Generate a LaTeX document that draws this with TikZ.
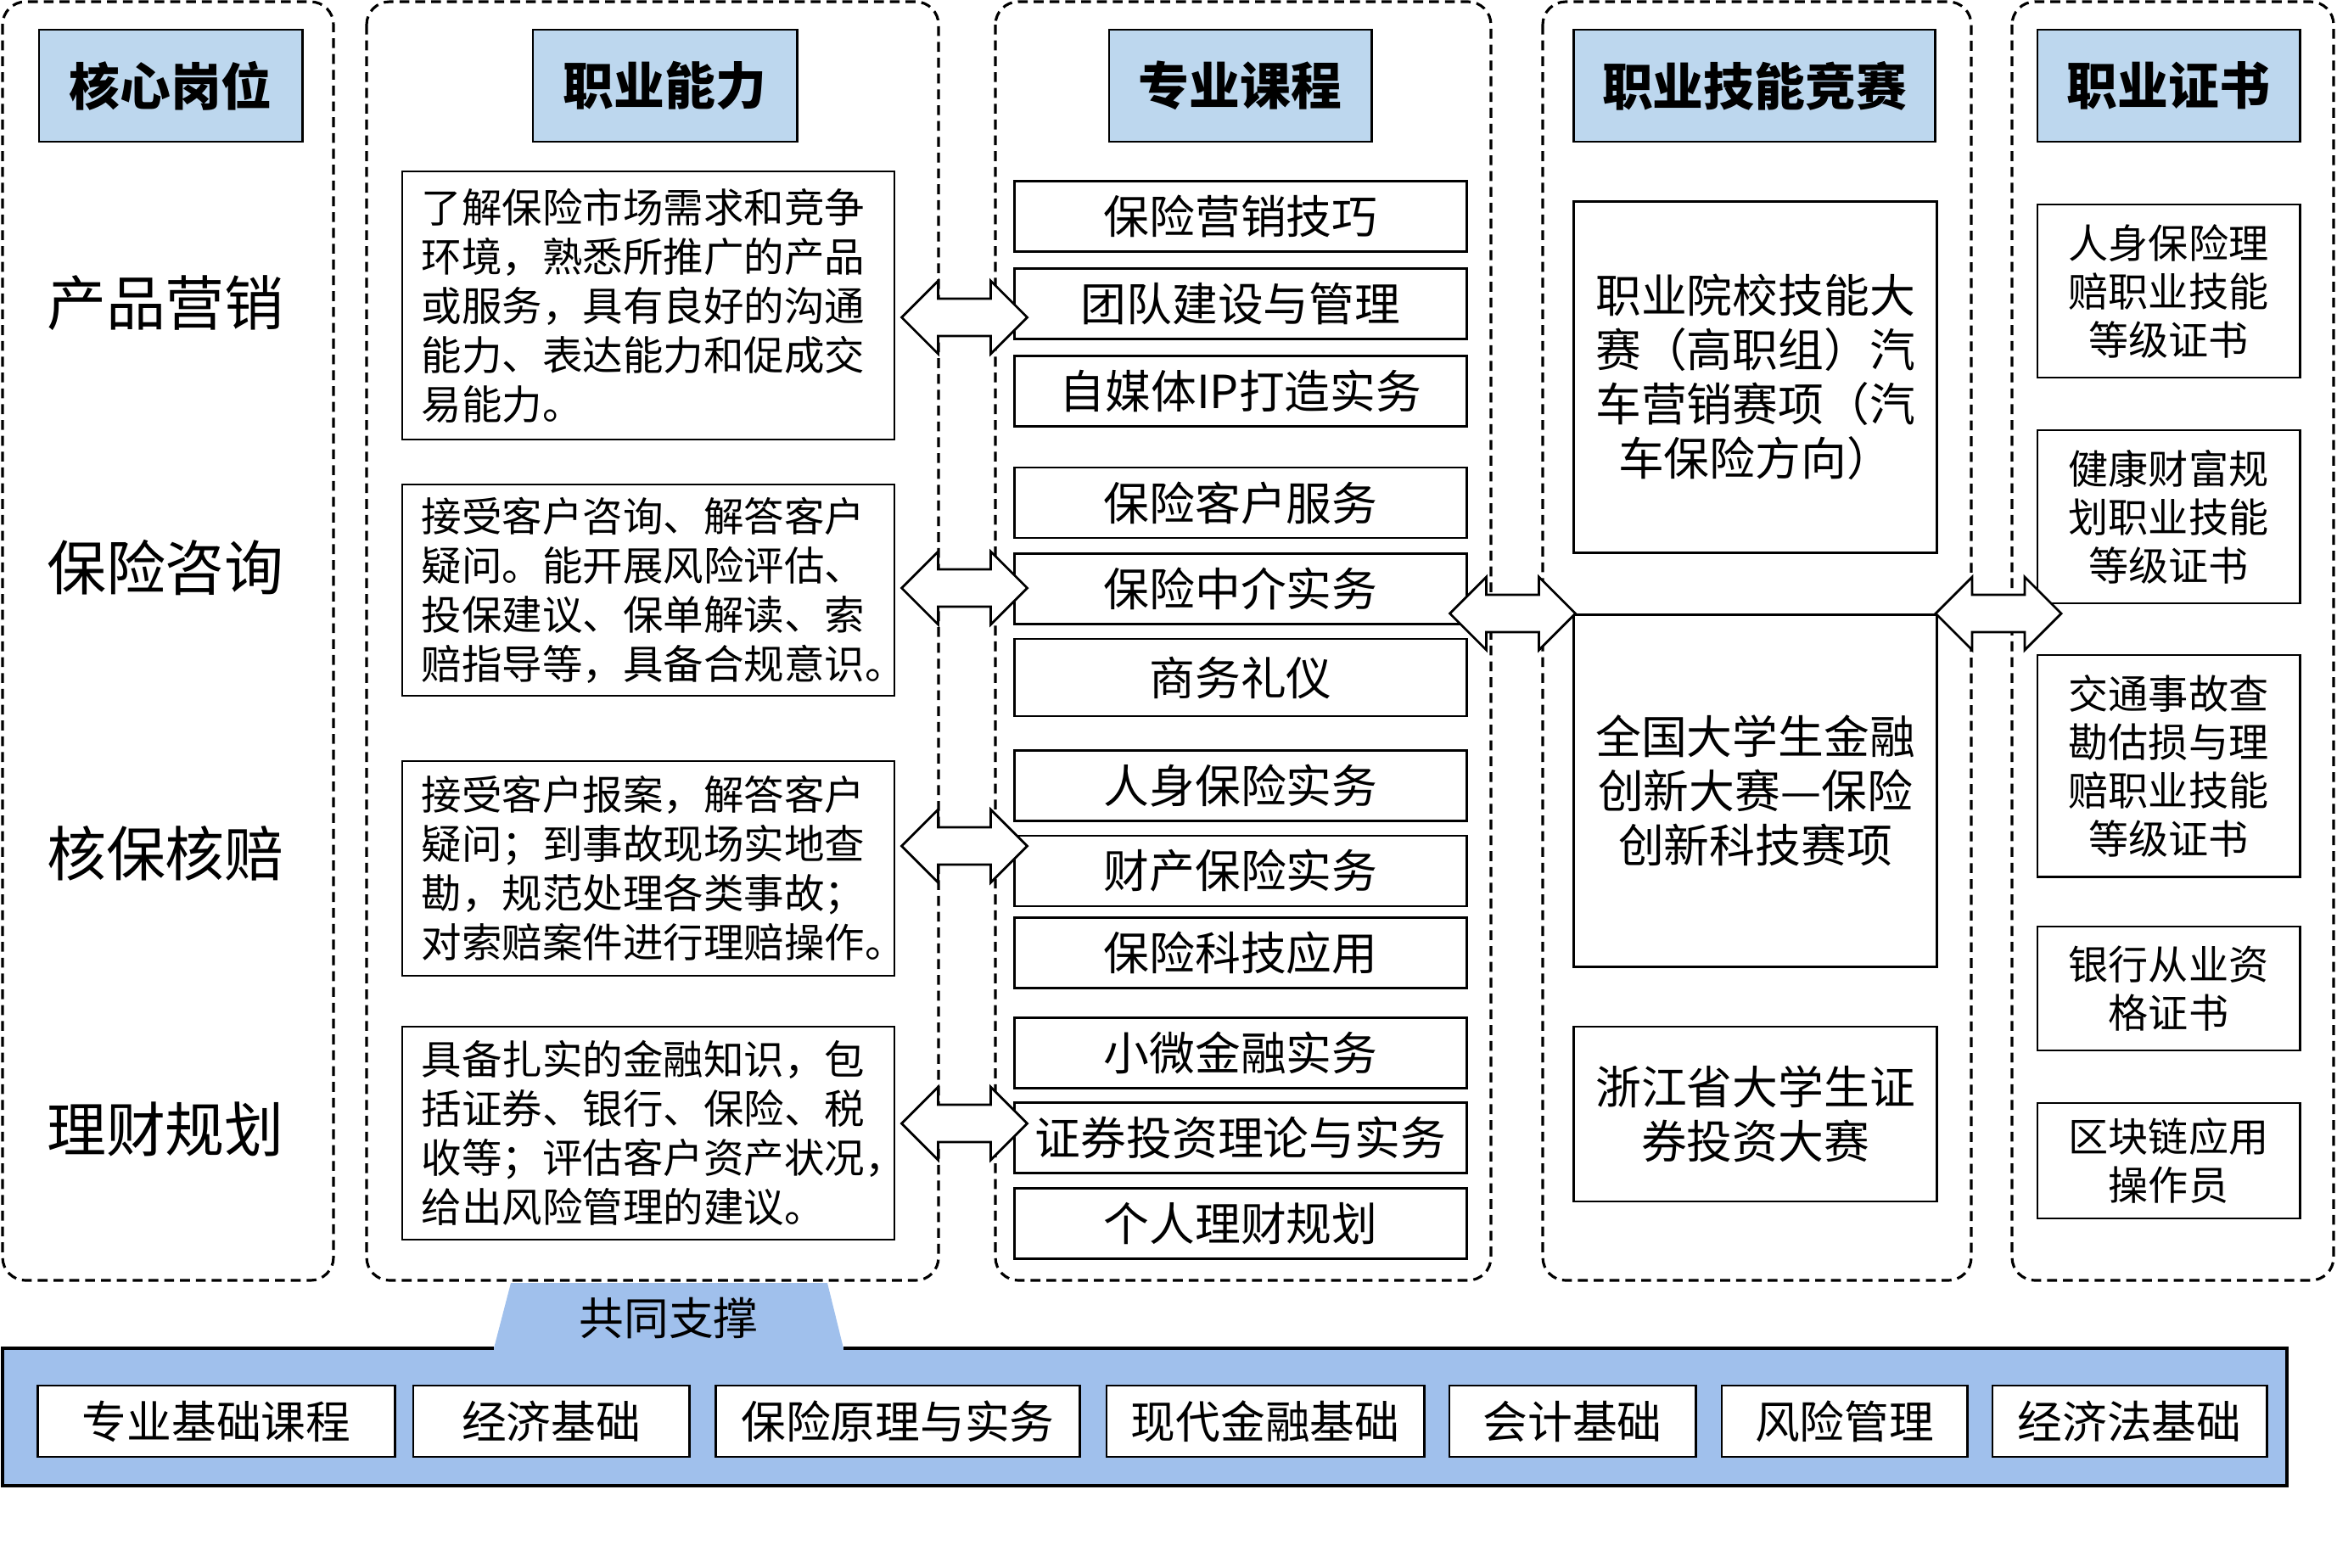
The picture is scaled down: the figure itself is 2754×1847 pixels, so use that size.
\documentclass[tikz,border=0pt]{standalone}
\usepackage{fontspec}
\setmainfont{Noto Sans CJK SC}
\usepackage{tikz}
\usetikzlibrary{positioning, calc}
\definecolor{headblue}{RGB}{189,215,238}
\definecolor{barblue}{RGB}{160,192,236}
\newcommand{\headfont}{\fontsize{17pt}{20pt}\selectfont\bfseries}
\newcommand{\postfont}{\fontsize{19.9pt}{24pt}\selectfont}
\newcommand{\abilfont}{\fontsize{13.5pt}{16.5pt}\selectfont}
\newcommand{\coursefont}{\fontsize{15.3pt}{18pt}\selectfont}
\newcommand{\compfont}{\fontsize{15.3pt}{18.2pt}\selectfont}
\newcommand{\certfont}{\fontsize{13.4pt}{16.2pt}\selectfont}
\newcommand{\basecfont}{\fontsize{15pt}{18pt}\selectfont}
\tikzset{dblarrow/.pic={
  \draw[line width=0.8pt, fill=white] (-74,0) -- (-31,-43) -- (-31,-22) -- (31,-22) -- (31,-43)
    -- (74,0) -- (31,43) -- (31,22) -- (-31,22) -- (-31,43) -- cycle;
}}

\begin{document}
\begin{tikzpicture}[x=0.01cm, y=-0.01cm,
  group/.style={dash pattern=on 3.3pt off 2pt, line width=0.9pt, rounded corners=7.7pt},
  header/.style={draw, rectangle, line width=0.8pt, fill=headblue, minimum height=1.32cm, font=\headfont},
  post/.style={font=\postfont},
  ability/.style={draw, rectangle, line width=0.6pt, minimum width=5.8cm, text width=5.34cm, inner xsep=0.23cm, align=left, font=\abilfont},
  course/.style={draw, rectangle, line width=0.8pt, minimum width=5.32cm, minimum height=0.83cm, font=\coursefont},
  contest/.style={draw, rectangle, line width=0.8pt, minimum width=4.27cm, align=center, font=\compfont},
  cert/.style={draw, rectangle, line width=0.8pt, minimum width=3.09cm, align=center, font=\certfont},
  basic/.style={draw, rectangle, line width=0.8pt, fill=white, minimum height=0.84cm, font=\basecfont}]
\useasboundingbox (0,0) rectangle (2754,1847);

% Dashed column frames
\draw[group] (3,2) rectangle (393,1509);
\draw[group] (432,2) rectangle (1106,1509);
\draw[group] (1173,2) rectangle (1757,1509);
\draw[group] (1818,2) rectangle (2323,1509);
\draw[group] (2371,2) rectangle (2750,1509);

% Headers
\node[header, minimum width=3.10cm] (hdpost) at (201,101) {核心岗位};
\node[header, minimum width=3.11cm] (hdabil) at (783.5,101) {职业能力};
\node[header, minimum width=3.09cm] (hdcourse) at (1461.5,101) {专业课程};
\node[header, minimum width=4.25cm] (hdcontest) at (2067.5,101) {职业技能竞赛};
\node[header, minimum width=3.09cm] (hdcert) at (2555.5,101) {职业证书};

% Core posts
\node[post] (post1) at (195,357) {产品营销};
\node[post] (post2) at (195,669) {保险咨询};
\node[post] (post3) at (195,1006) {核保核赔};
\node[post] (post4) at (195,1331) {理财规划};

% Abilities
\node[ability, minimum height=3.16cm] (abil1) at (764,360) {了解保险市场需求和竞争\\环境，熟悉所推广的产品\\或服务，具有良好的沟通\\能力、表达能力和促成交\\易能力。};
\node[ability, minimum height=2.49cm] (abil2) at (764,695.5) {接受客户咨询、解答客户\\疑问。能开展风险评估、\\投保建议、保单解读、索\\赔指导等，具备合规意识。};
\node[ability, minimum height=2.53cm] (abil3) at (764,1023.5) {接受客户报案，解答客户\\疑问；到事故现场实地查\\勘，规范处理各类事故；\\对索赔案件进行理赔操作。};
\node[ability, minimum height=2.51cm] (abil4) at (764,1335.5) {具备扎实的金融知识，包\\括证券、银行、保险、税\\收等；评估客户资产状况，\\给出风险管理的建议。};

% Courses
\node[course] (crs1) at (1462,255) {保险营销技巧};
\node[course] (crs2) at (1462,358) {团队建设与管理};
\node[course] (crs3) at (1462,461) {自媒体IP打造实务};
\node[course] (crs4) at (1462,592.5) {保险客户服务};
\node[course] (crs5) at (1462,694) {保险中介实务};
\node[course, minimum height=0.91cm] (crs6) at (1462,798.5) {商务礼仪};
\node[course] (crs7) at (1462,926) {人身保险实务};
\node[course] (crs8) at (1462,1026.5) {财产保险实务};
\node[course] (crs9) at (1462,1123) {保险科技应用};
\node[course] (crs10) at (1462,1241) {小微金融实务};
\node[course] (crs11) at (1462,1341) {证券投资理论与实务};
\node[course] (crs12) at (1462,1442) {个人理财规划};

% Skill contests
\node[contest, minimum height=4.13cm] (cont1) at (2068.5,444.5) {职业院校技能大\\赛（高职组）汽\\车营销赛项（汽\\车保险方向）};
\node[contest, minimum height=4.14cm] (cont2) at (2068.5,932) {全国大学生金融\\创新大赛—保险\\创新科技赛项};
\node[contest, minimum height=2.06cm] (cont3) at (2068.5,1313) {浙江省大学生证\\券投资大赛};

% Certificates
\node[cert, minimum height=2.04cm] (cert1) at (2555.5,343) {人身保险理\\赔职业技能\\等级证书};
\node[cert, minimum height=2.04cm] (cert2) at (2555.5,609) {健康财富规\\划职业技能\\等级证书};
\node[cert, minimum height=2.61cm] (cert3) at (2555.5,902.5) {交通事故查\\勘估损与理\\赔职业技能\\等级证书};
\node[cert, minimum height=1.46cm] (cert4) at (2555.5,1165) {银行从业资\\格证书};
\node[cert, minimum height=1.36cm] (cert5) at (2555.5,1368) {区块链应用\\操作员};

% Common support bar
\fill[barblue] (3,1589) -- (582,1589) -- (602,1512) -- (975,1512) -- (994,1589)
  -- (2695,1589) -- (2695,1751) -- (3,1751) -- cycle;
\draw[line width=1pt] (582,1589) -- (3,1589) -- (3,1751) -- (2695,1751) -- (2695,1589) -- (994,1589);
\node[font=\basecfont] (support) at (788,1553) {共同支撑};

\node[basic, minimum width=4.20cm] (base1) at (255,1675) {专业基础课程};
\node[basic, minimum width=3.25cm] (base2) at (649.5,1675) {经济基础};
\node[basic, minimum width=4.28cm] (base3) at (1058,1675) {保险原理与实务};
\node[basic, minimum width=3.74cm] (base4) at (1491,1675) {现代金融基础};
\node[basic, minimum width=2.90cm] (base5) at (1853,1675) {会计基础};
\node[basic, minimum width=2.89cm] (base6) at (2173.5,1675) {风险管理};
\node[basic, minimum width=3.23cm] (base7) at (2509.5,1675) {经济法基础};

% Double arrows between columns
\pic (arr1) at (1136.5,374) {dblarrow};
\pic (arr2) at (1136.5,693) {dblarrow};
\pic (arr3) at (1136.5,997) {dblarrow};
\pic (arr4) at (1136.5,1324) {dblarrow};
\pic (arr5) at (1782.5,723) {dblarrow};
\pic (arr6) at (2355,723) {dblarrow};
\end{tikzpicture}
\end{document}
